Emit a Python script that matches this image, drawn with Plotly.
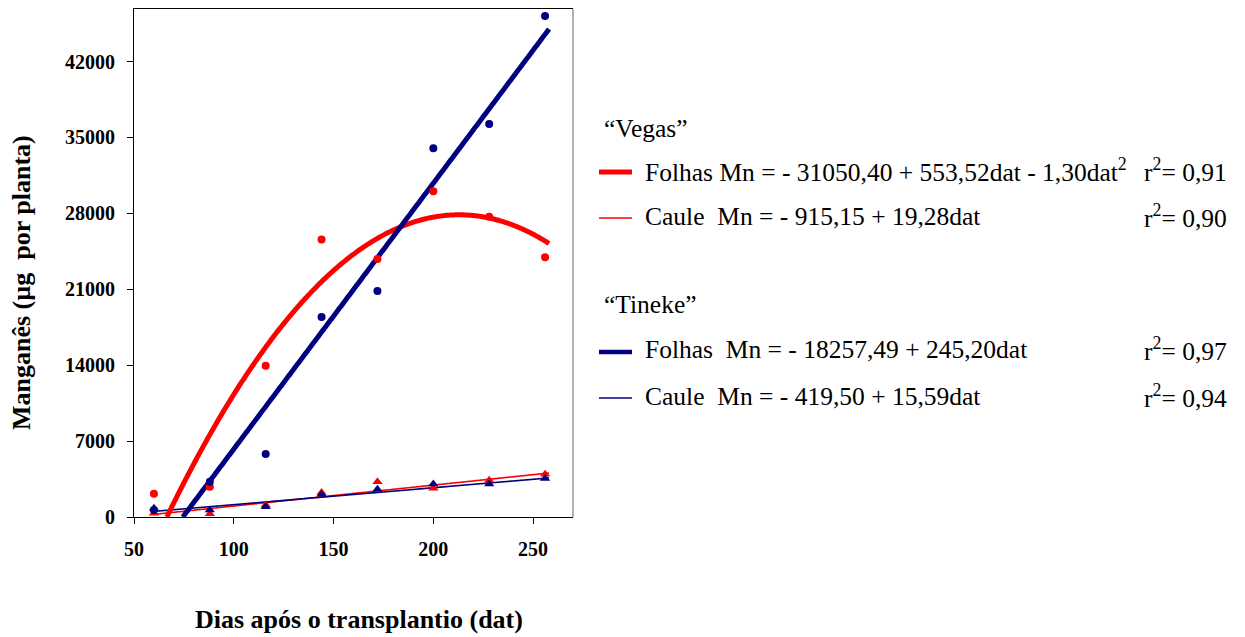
import numpy as np
import plotly.graph_objects as go

# Sampling days (dias após o transplantio)
dias = [60, 88, 116, 144, 172, 200, 228, 256]

# Manganese content (µg per plant)
vegas_folhas = [2150, 2800, 13950, 25600, 23800, 30050, 27700, 23950]
tineke_folhas = [650, 3250, 5800, 18450, 20850, 34000, 36250, 46200]
vegas_caule = [350, 300, 1100, 2250, 3250, 2650, 3400, 3950]
tineke_caule = [800, 650, 950, 2100, 2550, 3050, 3050, 3550]

# Regression coefficients (intercept, linear, quadratic)
coef_vegas_folhas = [-31050.40, 553.52, -1.30]
coef_vegas_caule = [-915.15, 19.28, 0.0]
coef_tineke_folhas = [-18257.49, 245.20, 0.0]
coef_tineke_caule = [-419.50, 15.59, 0.0]

x_ticks = [50, 100, 150, 200, 250]
y_ticks = [0, 7000, 14000, 21000, 28000, 35000, 42000]
y_tick_text = ["0", "7000", "14000", "21000", "28000", "35000", "42000"]

RED = "#ff0000"
NAVY = "#000080"
SERIF = "Liberation Serif, Times New Roman, serif"

# plot-area geometry in pixels
W, H = 1245, 637
L, R, T, B = 134, 573, 9, 517


def px_x(p):
    return (p - L) / (R - L)


def px_y(p):
    return (B - p) / (B - T)


def poly(c, x):
    return c[0] + c[1] * x + c[2] * x ** 2


def first_root(c):
    # first day where the fitted curve crosses zero
    if c[2] == 0:
        return -c[0] / c[1]
    a, b, k = c[2], c[1], c[0]
    d = np.sqrt(b * b - 4 * a * k)
    return min((-b + d) / (2 * a), (-b - d) / (2 * a))


x_end = 258
fig = go.Figure()

# fitted curves
for coef, color, width, start in [
    (coef_vegas_caule, RED, 1.6, 60),
    (coef_tineke_caule, NAVY, 1.6, 60),
    (coef_vegas_folhas, RED, 5, None),
    (coef_tineke_folhas, NAVY, 5, None),
]:
    x0 = start if start is not None else first_root(coef)
    xs = np.linspace(x0, x_end, 400)
    fig.add_trace(go.Scatter(x=xs, y=poly(coef, xs), mode="lines",
                             line=dict(color=color, width=width, simplify=False),
                             hoverinfo="skip"))

# observed values
fig.add_trace(go.Scatter(x=dias, y=vegas_folhas, mode="markers",
                         marker=dict(symbol="circle", size=8, color=RED)))
fig.add_trace(go.Scatter(x=dias, y=vegas_caule, mode="markers",
                         marker=dict(symbol="triangle-up", size=9, color=RED)))
fig.add_trace(go.Scatter(x=dias, y=tineke_folhas, mode="markers",
                         marker=dict(symbol="circle", size=8, color=NAVY)))
fig.add_trace(go.Scatter(x=dias, y=tineke_caule, mode="markers",
                         marker=dict(symbol="triangle-up", size=9, color=NAVY)))

tick_font = dict(family=SERIF, size=20, color="black", weight="bold")

fig.update_xaxes(range=[50, 270], tickvals=x_ticks, ticks="outside", ticklen=6,
                 tickcolor="black", showline=True, linecolor="black",
                 linewidth=1, mirror=True, showgrid=False, zeroline=False,
                 tickfont=tick_font, ticklabelstandoff=8)
fig.update_yaxes(range=[0, 46850], tickvals=y_ticks, ticktext=y_tick_text,
                 ticks="outside", ticklen=6,
                 tickcolor="black", showline=True, linecolor="black",
                 linewidth=1, showgrid=False, zeroline=False,
                 tickfont=tick_font, ticklabelstandoff=8)


def title_font():
    return dict(family=SERIF, size=26, color="black", weight="bold")


def legend_font():
    return dict(family=SERIF, size=25.5, color="black", weight="normal")


annotations = [
    dict(text="Dias após o transplantio (dat)", x=px_x(359), y=px_y(619),
         font=title_font(), xanchor="center", yanchor="middle"),
    dict(text="Manganês (µg \u00a0por planta)", x=px_x(22), y=px_y(282),
         textangle=-90, font=title_font(), xanchor="center", yanchor="middle"),
]

legend_rows = [
    ("“Vegas”", None, 602, 128, None, None),
    ("Folhas Mn = - 31050,40 + 553,52dat - 1,30dat<sup>2</sup>",
     "r<sup>2</sup>= 0,91", 643, 170, RED, 5),
    ("Caule \u00a0Mn = - 915,15 + 19,28dat", "r<sup>2</sup>= 0,90", 643, 216, RED, 1.6),
    ("“Tineke”", None, 602, 304, None, None),
    ("Folhas \u00a0Mn = - 18257,49 + 245,20dat", "r<sup>2</sup>= 0,97", 643, 350, NAVY, 4.5),
    ("Caule \u00a0Mn = - 419,50 + 15,59dat", "r<sup>2</sup>= 0,94", 643, 396, NAVY, 1.6),
]

shapes = [
    dict(type="line", xref="paper", yref="paper", x0=1, x1=1, y0=0, y1=1,
         line=dict(color="#7f7f7f", width=1.2)),
]

for label, r2, xp, yp, color, lw in legend_rows:
    annotations.append(dict(text=label, x=px_x(xp), y=px_y(yp), font=legend_font(),
                            xanchor="left", yanchor="middle"))
    if r2:
        annotations.append(dict(text=r2, x=px_x(1229), y=px_y(yp), font=legend_font(),
                                xanchor="right", yanchor="middle"))
    if color:
        ly = px_y(yp + 2)
        shapes.append(dict(type="line", xref="paper", yref="paper",
                           x0=px_x(599), x1=px_x(632), y0=ly, y1=ly,
                           line=dict(color=color, width=lw)))

for a in annotations:
    a.update(xref="paper", yref="paper", showarrow=False)

fig.update_layout(
    width=W, height=H,
    margin=dict(l=L, r=W - R, t=T, b=H - B),
    paper_bgcolor="white", plot_bgcolor="white",
    showlegend=False,
    font=dict(family=SERIF, color="black"),
    annotations=annotations,
    shapes=shapes,
)

fig.write_html("out.html")
